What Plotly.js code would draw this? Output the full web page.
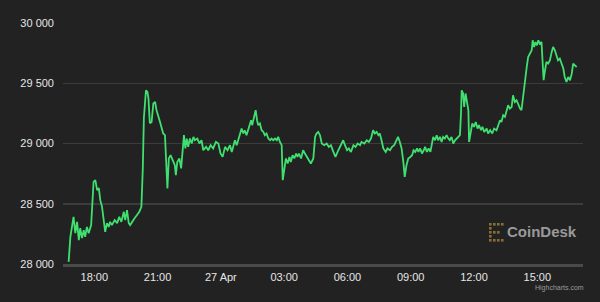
<!DOCTYPE html>
<html>
<head>
<meta charset="utf-8">
<script src="https://cdn.plot.ly/plotly-3.0.1.min.js"></script>
<style>
  html, body { margin: 0; padding: 0; background: #222222; }
  #chart { width: 600px; height: 302px; }
</style>
</head>
<body>
<div id="chart"></div>
<script>
// ---- data (BTC price, 26–27 Apr) ----
const timesApr26 = ["16:47","16:52","17:01","17:06","17:11","17:16","17:20","17:25","17:30","17:34","17:39","17:44","17:51","17:58",
"18:03","18:08","18:13","18:17","18:22","18:27","18:31","18:36","18:41","18:45","18:50","18:58",
"19:05","19:11","19:17","19:24","19:28","19:33","19:38","19:42","19:47","19:55",
"20:01","20:08","20:14","20:18","20:21","20:27","20:31","20:34","20:38","20:43","20:48","20:53","20:57",
"21:02","21:07","21:12","21:16","21:21","21:24","21:28","21:32","21:37","21:43","21:49","21:52","21:56",
"22:02","22:07","22:11","22:15","22:19","22:23","22:27","22:32","22:37","22:42","22:46","22:53","22:59",
"23:05","23:10","23:18","23:24","23:31","23:38","23:46","23:53","23:59"];
const pricesApr26 = [28018,28225,28391,28256,28350,28198,28298,28215,28281,28225,28308,28256,28323,28682,
28696,28613,28629,28530,28474,28364,28267,28339,28308,28350,28323,28364,
28339,28391,28350,28433,28364,28447,28339,28323,28350,28381,
28405,28433,28474,28795,29210,29442,29428,29376,29168,29179,29332,29345,29276,
29235,29179,29124,29083,29069,28847,28627,28876,28903,28862,28820,28737,28847,
28876,28793,28930,29069,28959,29041,28972,29041,29000,29055,29027,29041,29000,
29027,28944,28972,28944,28986,28959,29013,29000,28917];
const timesApr27 = ["00:05","00:12","00:19","00:26","00:31","00:35","00:40","00:45","00:50","00:54","00:59",
"01:04","01:08","01:13","01:20","01:26","01:29","01:35","01:39","01:43","01:46","01:51","01:56",
"02:01","02:05","02:10","02:15","02:20","02:24","02:29","02:34","02:39","02:43","02:48","02:53","02:56",
"03:00","03:05","03:10","03:15","03:19","03:24","03:29","03:34","03:38","03:42","03:48","03:54","03:59",
"04:04","04:09","04:16","04:23","04:28","04:32","04:37","04:42","04:47","04:54",
"05:01","05:07","05:13","05:20","05:26","05:34","05:42","05:48","05:53","05:59",
"06:04","06:10","06:17","06:23","06:29","06:36","06:40","06:48","06:55",
"07:01","07:07","07:13","07:18","07:23","07:28","07:32","07:37","07:42","07:49","07:54",
"08:01","08:07","08:13","08:20","08:24","08:29","08:34","08:39","08:43","08:48","08:53","08:58",
"09:04","09:08","09:13","09:18","09:22","09:27","09:32","09:37","09:41","09:46","09:51","09:56","09:59",
"10:04","10:09","10:14","10:18","10:23","10:28","10:32","10:37","10:42","10:47","10:51","10:56",
"11:01","11:06","11:10","11:15","11:20","11:23","11:25","11:29","11:32","11:36","11:40","11:44","11:46","11:50","11:55",
"12:00","12:05","12:10","12:14","12:20","12:24","12:29","12:36","12:40","12:46","12:52","12:57",
"13:04","13:09","13:14","13:18","13:23","13:28","13:33","13:37","13:42","13:47","13:51","13:56",
"14:01","14:06","14:11","14:15","14:20","14:25","14:30","14:34","14:39","14:44","14:47","14:51","14:55","14:59",
"15:03","15:07","15:12","15:15","15:18","15:22","15:26","15:31","15:36","15:41","15:45","15:50","15:55","15:59",
"16:04","16:09","16:14","16:18","16:23","16:28","16:33","16:38","16:42","16:47","16:52"];
const pricesApr27 = [28889,28972,28944,28986,28930,28972,29027,28986,29041,29069,29124,
29083,29110,29069,29138,29193,29152,29235,29276,29193,29152,29166,29110,
29096,29069,29083,29041,29027,29041,29027,29041,29027,29055,29013,28986,28696,
28779,28876,28834,28889,28847,28903,28876,28917,28889,28917,28876,28944,28917,
28889,28862,28834,28876,29055,29083,29096,29069,29000,28986,
29000,28972,28986,28930,28889,28944,28986,29027,28986,28944,
28959,28930,28986,28972,29000,28986,29013,29000,29027,
29013,29041,29110,29083,29096,29069,29083,29027,28959,28930,28959,
28944,28972,28986,29041,29055,29013,28959,28847,28723,28820,28876,28886,
28903,28944,28930,28959,28930,28959,28917,28944,28972,28930,28959,28930,28972,
29055,29027,29069,29027,29055,29013,29055,29041,29069,29041,29027,29055,
29000,29027,29041,29055,29069,29249,29442,29415,29303,29415,29332,29276,29013,29083,29166,
29138,29179,29124,29152,29110,29138,29096,29124,29083,29110,29083,29124,
29110,29152,29193,29179,29235,29221,29276,29318,29290,29303,29400,29345,
29359,29318,29290,29276,29415,29525,29635,29718,29746,29774,29857,29801,29842,29815,
29857,29829,29842,29663,29525,29608,29677,29663,29691,29760,29801,29774,29718,29691,
29705,29663,29622,29552,29511,29552,29525,29580,29663,29649,29635];

const xTickVals = ["2023-04-26 18:00","2023-04-26 21:00","2023-04-27 00:00","2023-04-27 03:00",
                   "2023-04-27 06:00","2023-04-27 09:00","2023-04-27 12:00","2023-04-27 15:00"];
const xTickText = ["18:00","21:00","27 Apr","03:00","06:00","09:00","12:00","15:00"];
const yTickVals = [28000, 28500, 29000, 29500, 30000];
const yTickText = ["28 000", "28 500", "29 000", "29 500", "30 000"];

// ---- build series ----
const x = timesApr26.map(t => "2023-04-26 " + t).concat(timesApr27.map(t => "2023-04-27 " + t));
const y = pricesApr26.concat(pricesApr27);

// ---- layout geometry helpers (for the logo) ----
const M = {l: 63, r: 17, t: 23, b: 38};
const W = 600, H = 302;
const pw = W - M.l - M.r, ph = H - M.t - M.b;
const px = v => (v - M.l) / pw;
const py = v => (H - M.b - v) / ph;

const logoShapes = [];
const dotCols = [489, 493, 497, 501];
const dotRows = [223, 227, 231, 235, 239];
dotRows.forEach((ry, ri) => {
  dotCols.forEach((cx, ci) => {
    const on = ci === 0 || ri === 0 || ri === dotRows.length - 1 || (ri === 2 && ci < 3);
    if (on) {
      logoShapes.push({type: 'rect', xref: 'paper', yref: 'paper',
        x0: px(cx), x1: px(cx + 2.6), y0: py(ry + 2.6), y1: py(ry),
        fillcolor: '#8a6f34', line: {width: 0}, layer: 'above'});
    }
  });
});

const trace = {
  x: x, y: y, type: 'scatter', mode: 'lines',
  line: {color: '#3fe070', width: 1.8},
  hoverinfo: 'x+y'
};

const layout = {
  width: W, height: H,
  margin: M,
  paper_bgcolor: '#222222',
  plot_bgcolor: '#222222',
  font: {family: 'Liberation Sans, Arial, sans-serif', size: 11, color: '#e6e6e6'},
  showlegend: false,
  xaxis: {
    type: 'date',
    range: ["2023-04-26 16:31", "2023-04-27 17:10"],
    tickvals: xTickVals, ticktext: xTickText,
    showgrid: false, zeroline: false,
    showline: true, linecolor: '#4a4a4a', linewidth: 2.5,
    ticks: '', ticklabelstandoff: 1,
    tickfont: {size: 11, color: '#e6e6e6'},
    fixedrange: true
  },
  yaxis: {
    range: [28000, 30000],
    tickvals: yTickVals, ticktext: yTickText,
    showgrid: true, gridcolor: '#3c3c3c', gridwidth: 1.5,
    zeroline: false, showline: false,
    ticks: '', ticklabelstandoff: 8,
    tickfont: {size: 11, color: '#e6e6e6'},
    fixedrange: true
  },
  shapes: logoShapes,
  annotations: [
    {xref: 'paper', yref: 'paper', x: px(505), y: py(231), xanchor: 'left', yanchor: 'middle',
     text: '<b>CoinDesk</b>', showarrow: false,
     font: {family: 'Liberation Sans, Arial, sans-serif', size: 15, color: '#9a9a9a'}},
    {xref: 'paper', yref: 'paper', x: px(586), y: py(288), xanchor: 'right', yanchor: 'middle',
     text: 'Highcharts.com', showarrow: false,
     font: {family: 'Liberation Sans, Arial, sans-serif', size: 7, color: '#9a9a9a'}}
  ]
};

Plotly.newPlot('chart', [trace], layout, {displayModeBar: false, staticPlot: true});
</script>
</body>
</html>
